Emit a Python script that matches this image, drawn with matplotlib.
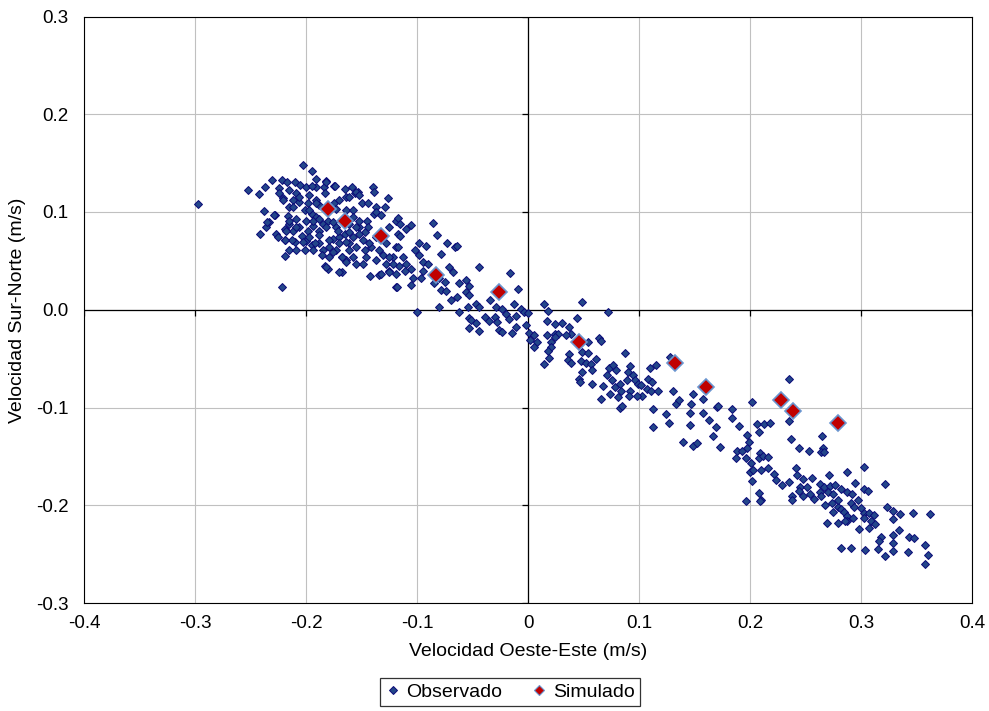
import numpy as np
import matplotlib.pyplot as plt
from matplotlib.lines import Line2D

plt.rcParams['font.family'] = ['Liberation Sans', 'DejaVu Sans']
plt.rcParams['font.size'] = 13

# ---------------------------------------------------------------- data
# observed velocity pairs (west-east, south-north), m/s, read off the picture
obs_pts = [
    (-0.297, 0.108), (-0.203, 0.148), (-0.195, 0.142), (-0.231, 0.133), (-0.222, 0.133),
    (-0.217, 0.131), (-0.210, 0.131), (-0.205, 0.128), (-0.191, 0.134), (-0.182, 0.132),
    (-0.175, 0.127), (-0.237, 0.126), (-0.252, 0.122), (-0.224, 0.125), (-0.215, 0.122),
    (-0.209, 0.119), (-0.200, 0.126), (-0.191, 0.126), (-0.184, 0.126), (-0.165, 0.124),
    (-0.159, 0.126), (-0.156, 0.119), (-0.153, 0.120), (-0.140, 0.126), (-0.139, 0.120),
    (-0.242, 0.118), (-0.224, 0.119), (-0.197, 0.117), (-0.183, 0.119), (-0.221, 0.114),
    (-0.212, 0.112), (-0.206, 0.110), (-0.198, 0.109), (-0.191, 0.112), (-0.188, 0.107),
    (-0.175, 0.109), (-0.164, 0.115), (-0.164, 0.102), (-0.158, 0.102), (-0.150, 0.109),
    (-0.144, 0.109), (-0.137, 0.105), (-0.215, 0.105), (-0.238, 0.101), (-0.228, 0.097),
    (-0.216, 0.096), (-0.201, 0.102), (-0.195, 0.098), (-0.191, 0.095), (-0.200, 0.091),
    (-0.215, 0.088), (-0.233, 0.090), (-0.236, 0.085), (-0.241, 0.078), (-0.219, 0.083),
    (-0.227, 0.078), (-0.209, 0.093), (-0.206, 0.085), (-0.212, 0.081), (-0.194, 0.086),
    (-0.198, 0.081), (-0.185, 0.088), (-0.188, 0.081), (-0.180, 0.091), (-0.225, 0.074),
    (-0.219, 0.071), (-0.210, 0.069), (-0.204, 0.075), (-0.200, 0.070), (-0.215, 0.061),
    (-0.195, 0.066), (-0.201, 0.061), (-0.194, 0.061), (-0.188, 0.068), (-0.185, 0.061),
    (-0.179, 0.064), (-0.176, 0.072), (-0.173, 0.061), (-0.168, 0.054), (-0.164, 0.051),
    (-0.155, 0.047), (-0.219, 0.055), (-0.183, 0.045), (-0.180, 0.042), (-0.168, 0.039),
    (-0.222, 0.023), (-0.170, 0.074), (-0.161, 0.068), (-0.158, 0.074), (-0.152, 0.085),
    (-0.147, 0.080), (-0.145, 0.091), (-0.139, 0.098), (-0.137, 0.074), (-0.147, 0.061),
    (-0.141, 0.064), (-0.134, 0.061), (-0.142, 0.035), (-0.134, 0.036), (-0.173, 0.085),
    (-0.165, 0.078), (-0.161, 0.088), (-0.158, 0.095),
    (-0.195, 0.127), (-0.182, 0.131), (-0.174, 0.127), (-0.155, 0.120), (-0.161, 0.115),
    (-0.152, 0.117), (-0.170, 0.112), (-0.173, 0.103), (-0.191, 0.109), (-0.197, 0.102),
    (-0.194, 0.091), (-0.188, 0.093), (-0.176, 0.090), (-0.182, 0.085), (-0.171, 0.081),
    (-0.161, 0.080), (-0.155, 0.085), (-0.152, 0.078), (-0.188, 0.076), (-0.197, 0.074),
    (-0.203, 0.069), (-0.192, 0.068), (-0.179, 0.071), (-0.170, 0.068), (-0.164, 0.069),
    (-0.155, 0.064), (-0.161, 0.061), (-0.176, 0.059), (-0.186, 0.056), (-0.179, 0.054),
    (-0.168, 0.054), (-0.158, 0.054), (-0.149, 0.047), (-0.164, 0.049), (-0.182, 0.044),
    (-0.170, 0.039), (-0.215, 0.091), (-0.209, 0.085), (-0.218, 0.081), (-0.213, 0.071),
    (-0.209, 0.061), (-0.219, 0.071), (-0.221, 0.112), (-0.212, 0.105), (-0.206, 0.115),
    (-0.229, 0.097), (-0.235, 0.090),
    (-0.126, 0.114), (-0.129, 0.105), (-0.119, 0.091), (-0.125, 0.085), (-0.117, 0.078),
    (-0.128, 0.068), (-0.119, 0.064), (-0.131, 0.056), (-0.122, 0.054), (-0.128, 0.047),
    (-0.125, 0.040), (-0.119, 0.037), (-0.132, 0.037), (-0.119, 0.023), (-0.137, 0.051),
    (-0.146, 0.054), (-0.143, 0.068), (-0.149, 0.071), (-0.144, 0.085), (-0.152, 0.091),
    (-0.137, 0.100), (-0.132, 0.097),
    (-0.117, 0.094), (-0.115, 0.088), (-0.110, 0.083), (-0.105, 0.087), (-0.086, 0.089),
    (-0.082, 0.076), (-0.073, 0.068), (-0.066, 0.064), (-0.064, 0.065), (-0.098, 0.068),
    (-0.092, 0.065), (-0.102, 0.061), (-0.117, 0.064), (-0.115, 0.075), (-0.078, 0.057),
    (-0.098, 0.056), (-0.095, 0.049), (-0.090, 0.047), (-0.110, 0.047), (-0.105, 0.042),
    (-0.111, 0.040), (-0.116, 0.045), (-0.122, 0.047), (-0.125, 0.039), (-0.118, 0.023),
    (-0.104, 0.032), (-0.096, 0.032), (-0.105, 0.025), (-0.095, 0.040), (-0.071, 0.044),
    (-0.068, 0.039), (-0.044, 0.044), (-0.016, 0.038), (-0.085, 0.027), (-0.078, 0.020),
    (-0.074, 0.019), (-0.075, 0.028), (-0.062, 0.027), (-0.056, 0.030), (-0.053, 0.024),
    (-0.056, 0.018), (-0.064, 0.013), (-0.069, 0.010), (-0.053, 0.015), (-0.080, 0.003),
    (-0.100, -0.002), (-0.062, -0.002), (-0.054, 0.003), (-0.047, 0.006), (-0.044, 0.003),
    (-0.053, -0.008), (-0.051, -0.010), (-0.047, -0.014), (-0.053, -0.019), (-0.044, -0.022),
    (-0.039, -0.007), (-0.035, -0.011), (-0.030, -0.007), (-0.028, -0.013), (-0.026, -0.021),
    (-0.023, -0.023), (-0.034, 0.010), (-0.029, 0.003), (-0.023, 0.001), (-0.020, -0.004),
    (-0.017, -0.009), (-0.011, -0.006), (-0.013, 0.006), (-0.009, 0.021), (-0.006, 0.001),
    (-0.004, -0.002), (-0.014, -0.024), (-0.011, -0.018), (-0.002, -0.016), (0.000, -0.003),
    (0.001, -0.024), (0.005, -0.026), (0.002, -0.031), (0.008, -0.033), (0.005, -0.038),
    (0.014, 0.006), (0.018, -0.001), (0.017, -0.011), (0.024, -0.015), (0.017, -0.026),
    (0.024, -0.025), (0.021, -0.033), (0.021, -0.038), (-0.113, 0.054), (-0.125, 0.054),
    (-0.080, 0.032),
    (0.049, 0.008), (0.072, -0.002), (0.044, -0.008), (0.031, -0.014), (0.037, -0.018),
    (0.039, -0.025), (0.034, -0.026), (0.027, -0.025), (0.024, -0.028), (0.018, -0.042),
    (0.019, -0.049), (0.014, -0.055), (0.054, -0.033), (0.064, -0.029), (0.066, -0.032),
    (0.037, -0.045), (0.036, -0.051), (0.039, -0.054), (0.049, -0.043), (0.054, -0.044),
    (0.048, -0.052), (0.052, -0.054), (0.057, -0.055), (0.061, -0.050), (0.049, -0.064),
    (0.058, -0.062), (0.046, -0.071), (0.047, -0.074), (0.058, -0.076), (0.068, -0.078),
    (0.071, -0.067), (0.073, -0.060), (0.077, -0.057), (0.079, -0.062), (0.076, -0.072),
    (0.078, -0.079), (0.074, -0.086), (0.066, -0.091), (0.083, -0.076), (0.084, -0.083),
    (0.081, -0.089), (0.087, -0.044), (0.092, -0.058), (0.090, -0.064), (0.095, -0.067),
    (0.089, -0.072), (0.092, -0.083), (0.091, -0.088), (0.096, -0.072), (0.099, -0.076),
    (0.102, -0.077), (0.103, -0.088), (0.098, -0.088), (0.107, -0.081), (0.111, -0.083),
    (0.117, -0.083), (0.108, -0.071), (0.112, -0.074), (0.110, -0.060), (0.115, -0.057),
    (0.083, -0.101), (0.085, -0.098), (0.113, -0.102), (0.113, -0.120), (0.124, -0.107),
    (0.127, -0.116), (0.131, -0.083), (0.133, -0.096), (0.136, -0.092), (0.147, -0.096),
    (0.149, -0.086), (0.146, -0.106), (0.146, -0.118), (0.158, -0.091), (0.158, -0.106),
    (0.163, -0.113), (0.169, -0.120), (0.170, -0.099), (0.128, -0.048),
    (0.140, -0.135), (0.149, -0.139), (0.152, -0.136),
    (0.235, -0.071), (0.171, -0.098), (0.202, -0.094), (0.184, -0.102), (0.184, -0.111),
    (0.190, -0.119), (0.167, -0.129), (0.173, -0.140), (0.206, -0.117), (0.208, -0.125),
    (0.213, -0.117), (0.218, -0.116), (0.235, -0.114), (0.197, -0.128), (0.199, -0.135),
    (0.197, -0.141), (0.188, -0.145), (0.193, -0.144), (0.187, -0.152), (0.196, -0.152),
    (0.201, -0.157), (0.200, -0.166), (0.203, -0.164), (0.202, -0.175), (0.209, -0.147),
    (0.208, -0.152), (0.212, -0.150), (0.216, -0.151), (0.210, -0.164), (0.216, -0.162),
    (0.222, -0.168), (0.223, -0.174), (0.229, -0.179), (0.235, -0.176), (0.208, -0.187),
    (0.210, -0.195), (0.196, -0.196), (0.237, -0.132), (0.244, -0.141), (0.253, -0.145),
    (0.241, -0.162), (0.242, -0.169), (0.248, -0.173), (0.256, -0.172), (0.245, -0.181),
    (0.251, -0.181), (0.244, -0.185), (0.238, -0.191), (0.248, -0.191), (0.254, -0.188),
    (0.258, -0.194), (0.265, -0.129), (0.266, -0.141), (0.264, -0.146), (0.267, -0.146),
    (0.271, -0.169), (0.263, -0.178), (0.267, -0.181), (0.272, -0.180), (0.263, -0.186),
    (0.270, -0.186), (0.275, -0.188), (0.277, -0.179), (0.282, -0.183), (0.287, -0.186),
    (0.287, -0.166), (0.295, -0.177), (0.303, -0.161), (0.303, -0.183), (0.306, -0.185),
    (0.268, -0.200), (0.274, -0.198), (0.279, -0.202), (0.282, -0.204), (0.285, -0.207),
    (0.291, -0.198), (0.294, -0.202), (0.297, -0.195), (0.300, -0.203), (0.303, -0.208),
    (0.307, -0.208), (0.312, -0.210), (0.264, -0.191), (0.279, -0.195),
    (0.209, -0.196), (0.238, -0.195), (0.275, -0.207), (0.287, -0.211), (0.269, -0.218),
    (0.279, -0.218), (0.287, -0.216),
    (0.322, -0.178), (0.292, -0.189), (0.303, -0.213), (0.309, -0.216), (0.313, -0.219),
    (0.307, -0.223), (0.293, -0.213), (0.286, -0.216), (0.298, -0.224), (0.323, -0.202),
    (0.329, -0.206), (0.329, -0.214), (0.335, -0.209), (0.347, -0.208), (0.362, -0.209),
    (0.334, -0.225), (0.318, -0.232), (0.329, -0.230), (0.316, -0.237), (0.329, -0.239),
    (0.343, -0.232), (0.348, -0.234), (0.282, -0.244), (0.291, -0.244), (0.304, -0.246),
    (0.315, -0.245), (0.329, -0.247), (0.322, -0.252), (0.342, -0.248), (0.358, -0.241),
    (0.360, -0.251), (0.358, -0.260),
]

sim_x = [-0.180, -0.165, -0.132, -0.083, -0.026, 0.046, 0.132, 0.160, 0.228, 0.239, 0.279]
sim_y = [0.103, 0.091, 0.075, 0.036, 0.018, -0.033, -0.054, -0.079, -0.092, -0.104, -0.116]

x_ticks = [-0.4, -0.3, -0.2, -0.1, 0.0, 0.1, 0.2, 0.3, 0.4]
x_ticklabels = ['-0.4', '-0.3', '-0.2', '-0.1', '0', '0.1', '0.2', '0.3', '0.4']
y_ticks = [-0.3, -0.2, -0.1, 0.0, 0.1, 0.2, 0.3]
y_ticklabels = ['-0.3', '-0.2', '-0.1', '0.0', '0.1', '0.2', '0.3']

obs = np.array(obs_pts)

# ---------------------------------------------------------------- plot
fig = plt.figure(figsize=(9.89, 7.11), dpi=100)
ax = fig.add_axes([84 / 989, 1 - 603 / 711, 888 / 989, 586.5 / 711])

ax.set_xlim(-0.4, 0.4)
ax.set_ylim(-0.3, 0.3)
ax.set_xticks(x_ticks, labels=x_ticklabels)
ax.set_yticks(y_ticks, labels=y_ticklabels)
ax.tick_params(length=0, labelsize=13.5)
ax.tick_params(axis='y', pad=11)
ax.tick_params(axis='x', pad=9)
ax.grid(True, color='#C0C0C0', lw=0.8, zorder=0)
ax.set_axisbelow(True)
for sp in ax.spines.values():
    sp.set_color('black')
    sp.set_linewidth(0.8)

# axes crossing at zero, with their small tick marks
ax.axhline(0, color='black', lw=0.9, zorder=1)
ax.axvline(0, color='black', lw=0.9, zorder=1)
ax.plot(np.zeros(len(y_ticks)), y_ticks, ls='none', marker=0, ms=4, mew=0.9, color='black', zorder=1)
ax.plot(x_ticks, np.zeros(len(x_ticks)), ls='none', marker=3, ms=4, mew=0.9, color='black', zorder=1)

ax.plot(obs[:, 0], obs[:, 1], ls='none', marker='D', ms=4.3, mfc='#23468A', mec='#0A0A78',
        mew=0.7, zorder=3)
ax.plot(sim_x, sim_y, ls='none', marker='D', ms=8.5, mfc='#C00000', mec='#6A95CF',
        mew=1.2, zorder=4)

fig.text(528 / 989, 1 - 652 / 711, 'Velocidad Oeste-Este (m/s)', ha='center', va='center', fontsize=14)
fig.text(18 / 989, 1 - 310 / 711, 'Velocidad Sur-Norte (m/s)', ha='center', va='center',
         rotation=90, fontsize=14)

handles = [
    Line2D([], [], ls='none', marker='D', ms=4.3, mfc='#23468A', mec='#0A0A78', mew=0.7),
    Line2D([], [], ls='none', marker='D', ms=4.8, mfc='#C00000', mec='#6A95CF', mew=0.8),
]
leg = fig.legend(handles, ['Observado', 'Simulado'], loc='center', ncol=2,
                 bbox_to_anchor=(510 / 989, 1 - 692 / 711), frameon=True, fancybox=False,
                 edgecolor='black', fontsize=14, handlelength=0.8, handletextpad=0.3,
                 columnspacing=1.5, borderpad=0.25)
leg.get_frame().set_linewidth(0.9)

fig.savefig('out.png', dpi=100)
